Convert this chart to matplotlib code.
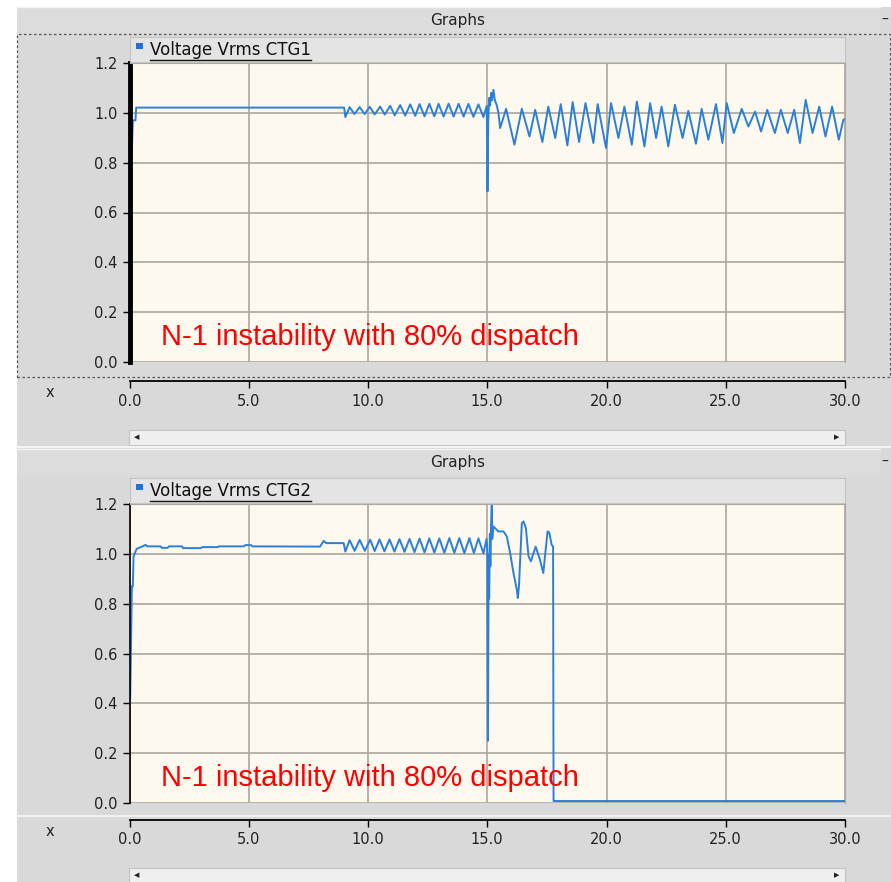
import matplotlib.pyplot as plt
from matplotlib.patches import Rectangle
from matplotlib.lines import Line2D

# ---- data (time s, voltage pu) ----
t_ctg1 = [0.10, 0.14, 0.25, 0.28, 9.00, 9.05, 9.23, 9.43, 9.65, 9.86, 10.07, 10.28,
          10.51, 10.70, 10.93, 11.12, 11.35, 11.56, 11.77, 11.98, 12.16, 12.37,
          12.57, 12.78, 12.96, 13.17, 13.38, 13.59, 13.80, 14.01, 14.21, 14.42,
          14.63, 14.84, 14.98, 15.01, 15.04, 15.08, 15.12, 15.16, 15.20, 15.26,
          15.32, 15.40, 15.47, 15.54, 15.79, 16.14, 16.45, 16.77, 17.01, 17.31,
          17.56, 17.85, 18.08, 18.36, 18.58, 18.85, 19.12, 19.45, 19.63, 19.98,
          20.19, 20.50, 20.75, 21.06, 21.27, 21.59, 21.83, 22.08, 22.31, 22.59,
          22.87, 23.19, 23.43, 23.75, 23.99, 24.27, 24.59, 24.86, 25.04, 25.34,
          25.67, 25.95, 26.23, 26.48, 26.74, 27.06, 27.31, 27.60, 27.87, 28.11,
          28.35, 28.64, 28.92, 29.18, 29.46, 29.74, 29.93, 30.00]
v_ctg1 = [0.85, 0.97, 0.97, 1.021, 1.021, 0.983, 1.023, 0.995, 1.023, 0.995, 1.024, 0.994,
          1.025, 0.993, 1.028, 0.990, 1.031, 0.989, 1.034, 0.988, 1.035, 0.986,
          1.036, 0.986, 1.036, 0.985, 1.037, 0.985, 1.036, 0.985, 1.036, 0.984,
          1.034, 0.983, 1.028, 0.685, 0.96, 1.06, 1.03, 1.08, 1.05, 1.092,
          1.05, 1.03, 0.999, 0.939, 1.016, 0.872, 1.016, 0.905, 1.012, 0.883,
          1.025, 0.899, 1.035, 0.869, 1.043, 0.883, 1.039, 0.879, 1.035, 0.859,
          1.039, 0.899, 1.025, 0.872, 1.045, 0.865, 1.039, 0.899, 1.025, 0.865,
          1.032, 0.899, 1.008, 0.876, 1.016, 0.892, 1.035, 0.879, 1.039, 0.919,
          1.016, 0.945, 1.005, 0.925, 1.012, 0.919, 1.012, 0.919, 1.012, 0.879,
          1.052, 0.919, 1.025, 0.905, 1.025, 0.892, 0.972, 0.975]

t_ctg2 = [0.03, 0.10, 0.14, 0.17, 0.30, 0.55, 0.67, 0.75, 1.30, 1.35, 1.60, 1.65,
          2.20, 2.25, 3.00, 3.05, 3.70, 3.75, 4.80, 4.85, 5.10, 5.15, 7.99, 8.14,
          8.25, 8.98, 9.05, 9.23, 9.44, 9.65, 9.87, 10.09, 10.28, 10.48, 10.69,
          10.90, 11.11, 11.32, 11.53, 11.74, 11.95, 12.16, 12.37, 12.57, 12.78,
          12.99, 13.20, 13.41, 13.62, 13.83, 14.04, 14.25, 14.44, 14.63, 14.84,
          14.97, 15.00, 15.03, 15.06, 15.08, 15.11, 15.13, 15.16, 15.19, 15.21,
          15.25, 15.33, 15.47, 15.68, 15.82, 15.96, 16.10, 16.24, 16.28, 16.33,
          16.45, 16.52, 16.62, 16.73, 16.83, 16.94, 17.03, 17.10, 17.21, 17.35,
          17.42, 17.53, 17.60, 17.70, 17.76, 17.78, 30.00]
v_ctg2 = [0.42, 0.87, 0.87, 0.99, 1.02, 1.03, 1.036, 1.03, 1.03, 1.024, 1.024, 1.03,
          1.03, 1.023, 1.023, 1.027, 1.027, 1.03, 1.03, 1.035, 1.035, 1.03, 1.029, 1.052,
          1.043, 1.043, 1.009, 1.055, 1.012, 1.056, 1.012, 1.057, 1.011, 1.058, 1.010,
          1.058, 1.009, 1.059, 1.008, 1.060, 1.007, 1.061, 1.006, 1.062, 1.005,
          1.062, 1.004, 1.063, 1.004, 1.063, 1.003, 1.063, 1.003, 1.062, 1.002,
          1.06, 1.02, 0.25, 1.0, 0.82, 1.08, 0.95, 1.12, 1.196, 1.06,
          1.11, 1.103, 1.09, 1.09, 1.07, 1.003, 0.923, 0.856, 0.823, 0.87,
          1.123, 1.13, 1.103, 0.99, 0.97, 1.003, 1.029, 1.009, 0.976, 0.923,
          0.99, 1.09, 1.086, 1.036, 1.03, 0.008, 0.008]

x_ticks = [0, 5, 10, 15, 20, 25, 30]
y_ticks = [0.0, 0.2, 0.4, 0.6, 0.8, 1.0, 1.2]
note = 'N-1 instability with 80% dispatch'

W, H = 891, 882
GRAY = '#d9d9d9'
fig = plt.figure(figsize=(W / 100, H / 100), dpi=100, facecolor=GRAY)


def box(x0, y0, x1, y1):
    return [x0 / W, 1 - y1 / H, (x1 - x0) / W, (y1 - y0) / H]


def rect(x0, y0, x1, y1, **kw):
    fig.add_artist(Rectangle((x0 / W, 1 - y1 / H), (x1 - x0) / W, (y1 - y0) / H,
                             transform=fig.transFigure, **kw))


def line(x0, y0, x1, y1, **kw):
    fig.add_artist(Line2D([x0 / W, x1 / W], [1 - y0 / H, 1 - y1 / H],
                          transform=fig.transFigure, **kw))


def ftext(x, y, s, **kw):
    return fig.text(x / W, 1 - y / H, s, **kw)


# white edges of the window
rect(0, 0, W, 7, facecolor='white', edgecolor='none')
rect(0, 0, 17, H, facecolor='white', edgecolor='none')


def panel(y_head, y_plot, y_axis, y_scroll, name, t, v, thick):
    # header bar
    rect(17, y_head, 880, y_head + 26, facecolor='#dcdcdc', edgecolor='none')
    line(17, y_head, 880, y_head, color='#f4f4f4', lw=1)
    ftext(458, y_head + 13, 'Graphs', ha='center', va='center', fontsize=11, color='#222')
    ftext(885, y_head + 13, '\u2013', ha='center', va='center', fontsize=10, color='#222')

    # legend bar
    rect(130, y_plot - 26, 845, y_plot - 1, facecolor='#e4e4e4', edgecolor='#c4c4c4', lw=0.8)
    rect(136, y_plot - 20, 143, y_plot - 14, facecolor='#1f73d6', edgecolor='none')
    lab = ftext(150, y_plot - 13, name, ha='left', va='center', fontsize=12, color='#111')

    ax = fig.add_axes(box(129.5, y_plot, 845, y_plot + 299))
    ax.set_facecolor('#fdf9ee')
    ax.plot(t, v, color='#2a7fdb', lw=1.4)
    ax.set_xlim(0, 30)
    ax.set_ylim(0, 1.2)
    ax.set_xticks(x_ticks)
    ax.set_yticks(y_ticks)
    ax.xaxis.set_major_formatter('{x:.1f}')
    ax.yaxis.set_major_formatter('{x:.1f}')
    ax.grid(True, color='#aca79c', lw=1.2)
    ax.set_axisbelow(True)
    for s in ('top', 'right'):
        ax.spines[s].set_color('#aca79c')
    ax.spines['left'].set_linewidth(3.5 if thick else 1.2)
    ax.spines['bottom'].set_position(('outward', (y_axis - y_plot - 299) * 0.72))
    ax.spines['bottom'].set_linewidth(1.3)
    ax.tick_params(axis='both', length=5, width=1, labelsize=10.5, labelcolor='#222')
    ax.tick_params(axis='x', pad=4)
    ax.text(1.3, 0.068, note, color='red', fontsize=21, family='Liberation Sans',
            va='baseline')
    ftext(50, y_axis + 12, 'x', ha='center', va='center', fontsize=10.5, color='#222')

    # scrollbar
    rect(129, y_scroll, 845, y_scroll + 15, facecolor='#efefef', edgecolor='#c2c2c2', lw=0.8)
    ftext(137, y_scroll + 7.5, '\u25c0', ha='center', va='center', fontsize=5, color='#222')
    ftext(837, y_scroll + 7.5, '\u25b6', ha='center', va='center', fontsize=5, color='#222')
    return lab


lab1 = panel(7, 63, 381, 430, 'Voltage Vrms CTG1', t_ctg1, v_ctg1, True)
lab2 = panel(449, 504, 820, 868, 'Voltage Vrms CTG2', t_ctg2, v_ctg2, False)

# dashed focus frame round the first graph
rect(17, 34, 890, 377, fill=False, edgecolor='#555555', lw=0.9, ls=(0, (2, 2)))
line(17, 447, W, 447, color='#f4f4f4', lw=1.5)
line(17, 816, W, 816, color='#f0f0f0', lw=1.5)

# underline the legend labels
fig.canvas.draw()
r = fig.canvas.get_renderer()
for lab in (lab1, lab2):
    bb = lab.get_window_extent(r)
    fig.add_artist(Line2D([bb.x0 / W, bb.x1 / W], [(bb.y0 - 1) / H, (bb.y0 - 1) / H],
                          transform=fig.transFigure, color='#111', lw=1))

fig.savefig('out.png', dpi=100, facecolor=fig.get_facecolor())
